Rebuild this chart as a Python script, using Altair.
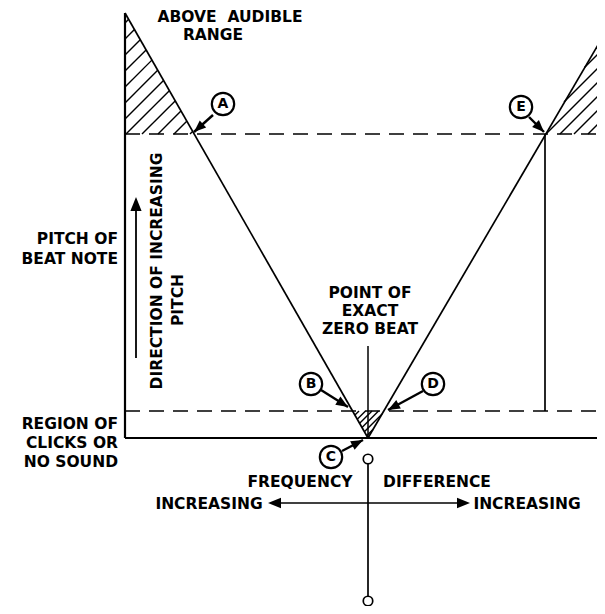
import altair as alt
import pandas as pd
import numpy as np

# ---------------- diagram geometry (drawing units, y grows downward) ----------------
# frame / thresholds
X_LEFT, X_RIGHT = 125, 605
Y_TOP_LEFT = 13          # top of left arm of the V
Y_RIGHT_TOP = 33         # top of right arm of the V
Y_UPPER = 134            # upper limit of audibility
Y_LOWER = 411            # lower limit of audibility
Y_BASE = 438             # zero-beat baseline
X_ZERO = 368             # point of exact zero beat
X_E = 545                # point E

# solid segments: x, y, x2, y2, stroke width
seg_x  = [X_LEFT, X_LEFT, X_LEFT, X_ZERO, X_E, X_ZERO, X_ZERO, 276, 136]
seg_y  = [Y_TOP_LEFT, Y_BASE, Y_TOP_LEFT, Y_BASE, Y_UPPER, 346, 464, 503, 358]
seg_x2 = [X_LEFT, X_RIGHT, X_ZERO, X_RIGHT, X_E, X_ZERO, X_ZERO, 462, 136]
seg_y2 = [Y_BASE, Y_BASE, Y_BASE, Y_RIGHT_TOP, Y_LOWER, Y_BASE, 598, 503, 205]
seg_w  = [2.2, 2.2, 1.7, 1.7, 1.7, 1.5, 1.7, 1.7, 1.8]

# dashed threshold lines
dash_y = [Y_UPPER, Y_LOWER]

# callout arrows: circle centre, letter, shaft start, tip
call_letter = ["A", "E", "B", "D", "C"]
call_cx = [223, 521, 311, 433, 331]
call_cy = [104, 107, 384, 384, 457]
call_sx = [213, 529, 321, 423, 342]
call_sy = [115, 117, 390, 391, 451]
call_tx = [194, 544, 348, 388, 363]
call_ty = [132, 132, 407, 410, 440]

# other arrowheads: tip x, tip y, direction-from x, from y, length
head_tx = [136, 268, 470]
head_ty = [197, 503, 503]
head_fx = [136, 368, 368]
head_fy = [358, 503, 503]
head_len = [14, 13, 13]

# hatched triangles (vertices) and hatch spacing
tri_left = [(X_LEFT, Y_TOP_LEFT), (X_LEFT, Y_UPPER), (194, Y_UPPER)]
tri_right = [(X_E, Y_UPPER), (X_RIGHT, Y_UPPER), (X_RIGHT, Y_RIGHT_TOP)]
tri_zero = [(352.6, Y_LOWER), (383.8, Y_LOWER), (X_ZERO, Y_BASE)]
hatch_specs = [(tri_left, 16, 276), (tri_right, 14, 694), (tri_zero, 6.5, 770)]

# small terminal circles on the stem
term_x = [X_ZERO, X_ZERO]
term_y = [459, 601]

# text labels
lab_right_text = ["PITCH OF", "BEAT NOTE", "REGION OF", "CLICKS OR", "NO SOUND"]
lab_right_x = [118, 118, 118, 118, 118]
lab_right_y = [239, 259, 424, 443, 462]

lab_c_text = ["ABOVE\u00a0\u00a0AUDIBLE", "RANGE", "POINT OF", "EXACT", "ZERO BEAT",
              "FREQUENCY", "DIFFERENCE", "INCREASING", "INCREASING",
              "DIRECTION OF INCREASING", "PITCH"]
lab_c_x = [230, 213, 370, 370, 370, 300, 437, 209, 527, 157, 178]
lab_c_y = [17, 35, 293, 311, 329, 482, 482, 504, 504, 271, 300]
lab_c_angle = [0, 0, 0, 0, 0, 0, 0, 0, 0, 270, 270]

# ---------------- build tables ----------------
segs = pd.DataFrame(dict(x=seg_x, y=seg_y, x2=seg_x2, y2=seg_y2, w=seg_w))
shafts = pd.DataFrame(dict(x=call_sx, y=call_sy, x2=call_tx, y2=call_ty))
dashes = pd.DataFrame(dict(x=[X_LEFT] * 2, x2=[X_RIGHT] * 2, y=dash_y))


def hatch(tri, step, c0):
    out = []
    sums = [p[0] + p[1] for p in tri]
    lo, hi = min(sums), max(sums)
    k0 = int(np.floor((lo - c0) / step)) - 1
    k1 = int(np.ceil((hi - c0) / step)) + 1
    for k in range(k0, k1 + 1):
        c = c0 + k * step
        pts = []
        for i in range(3):
            (ax, ay), (bx, by) = tri[i], tri[(i + 1) % 3]
            sa, sb = ax + ay, bx + by
            if sa == sb:
                continue
            t = (c - sa) / (sb - sa)
            if 0 <= t <= 1:
                pts.append((ax + t * (bx - ax), ay + t * (by - ay)))
        if len(pts) >= 2:
            pts.sort()
            (x1, y1), (x2, y2) = pts[0], pts[-1]
            if abs(x2 - x1) + abs(y2 - y1) > 1.5:
                out.append(dict(x=x1, y=y1, x2=x2, y2=y2))
    return out


hatches = pd.DataFrame([h for t, s, c in hatch_specs for h in hatch(t, s, c)])

# arrowheads
rows = []
for tx, ty, fx, fy, L in list(zip(call_tx, call_ty, call_sx, call_sy, [12] * 5)) + \
        list(zip(head_tx, head_ty, head_fx, head_fy, head_len)):
    dx, dy = tx - fx, ty - fy
    n = np.hypot(dx, dy)
    ux, uy = dx / n, dy / n
    ang = np.degrees(np.arctan2(dx, -dy)) % 360
    rows.append(dict(x=tx - ux * L / 2, y=ty - uy * L / 2, angle=ang, size=L * L))
heads = pd.DataFrame(rows)

circles = pd.DataFrame(dict(x=call_cx, y=call_cy, t=call_letter))
terms = pd.DataFrame(dict(x=term_x, y=term_y))
lab_r = pd.DataFrame(dict(x=lab_right_x, y=lab_right_y, t=lab_right_text))
lab_c = pd.DataFrame(dict(x=lab_c_x, y=lab_c_y, t=lab_c_text, a=lab_c_angle))

# ---------------- scales ----------------
W, H = 589, 598
xs = alt.Scale(domain=[8, 8 + W], nice=False, zero=False)
ys = alt.Scale(domain=[8, 8 + H], nice=False, zero=False, reverse=True)
X = lambda f="x": alt.X(f, type="quantitative", scale=xs, axis=None)
Y = lambda f="y": alt.Y(f, type="quantitative", scale=ys, axis=None)

FONT = "DejaVu Sans"
FS = 15.5

hatch_layer = alt.Chart(hatches).mark_rule(color="black", strokeWidth=1.4, clip=True).encode(
    x=X(), y=Y(), x2="x2:Q", y2="y2:Q")

seg_layer = alt.Chart(segs).mark_rule(color="black", clip=True).encode(
    x=X(), y=Y(), x2="x2:Q", y2="y2:Q",
    strokeWidth=alt.StrokeWidth("w:Q", scale=None, legend=None))

dash_layer = alt.Chart(dashes).mark_rule(color="black", strokeWidth=1.7,
                                          strokeDash=[15, 9], clip=True).encode(
    x=X(), y=Y(), x2="x2:Q")

shaft_layer = alt.Chart(shafts).mark_rule(color="black", strokeWidth=2.4).encode(
    x=X(), y=Y(), x2="x2:Q", y2="y2:Q")

head_layer = alt.Chart(heads).mark_point(
    shape="M0,-1L0.8,1L-0.8,1Z", filled=True, color="black", opacity=1, strokeWidth=0
).encode(x=X(), y=Y(), angle=alt.Angle("angle:Q", scale=None),
         size=alt.Size("size:Q", scale=None, legend=None))

circle_layer = alt.Chart(circles).mark_point(
    shape="circle", filled=False, color="black", size=500, strokeWidth=2.2, opacity=1
).encode(x=X(), y=Y())

letter_layer = alt.Chart(circles).mark_text(
    font=FONT, fontSize=14, fontWeight="bold", color="black", baseline="middle", align="center"
).encode(x=X(), y=Y(), text="t:N")

term_layer = alt.Chart(terms).mark_point(
    shape="circle", filled=True, fill="white", stroke="black", size=90, strokeWidth=1.7, opacity=1
).encode(x=X(), y=Y())

labr_layer = alt.Chart(lab_r).mark_text(
    font=FONT, fontSize=FS, fontWeight="bold", color="black", baseline="middle", align="right"
).encode(x=X(), y=Y(), text="t:N")

labc_layer = alt.Chart(lab_c).mark_text(
    font=FONT, fontSize=FS, fontWeight="bold", color="black", baseline="middle", align="center"
).encode(x=X(), y=Y(), text="t:N", angle=alt.Angle("a:Q", scale=None))

chart = alt.layer(
    hatch_layer, dash_layer, seg_layer, shaft_layer, head_layer,
    circle_layer, letter_layer, term_layer, labr_layer, labc_layer
).properties(
    width=W, height=H, padding=0, autosize=alt.AutoSizeParams(type="none"),
    background="white"
).configure_view(stroke=None)

chart.save("out.html", embed_options={"renderer": "svg", "actions": False})
